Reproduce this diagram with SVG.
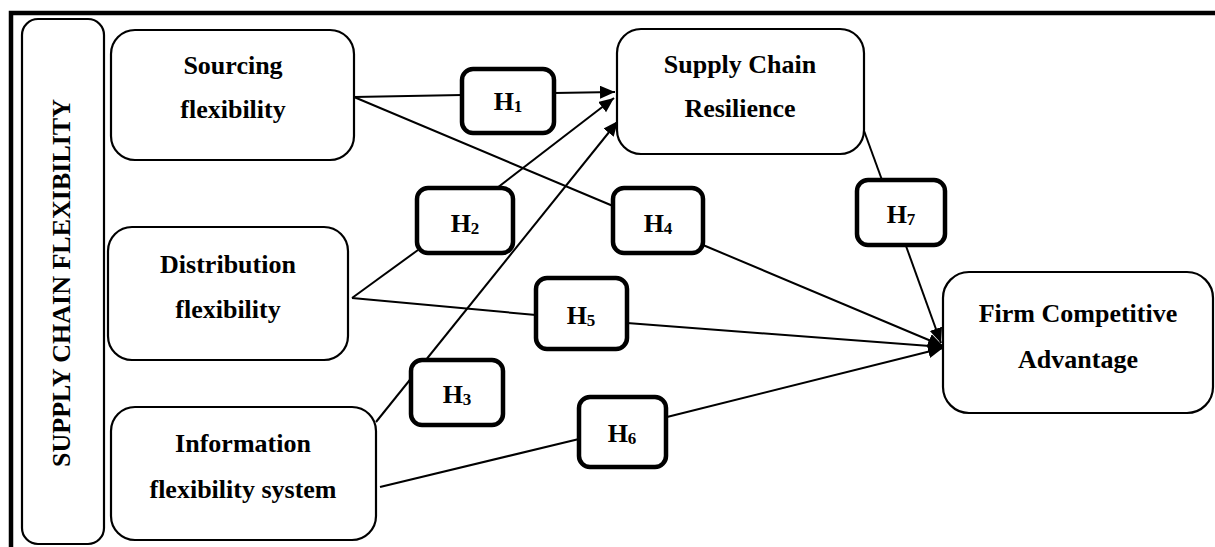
<svg xmlns="http://www.w3.org/2000/svg" width="1215" height="547" viewBox="0 0 1215 547">
  <style>
    .box { fill: #fff; stroke: #000; stroke-width: 2.2; }
    .hyp { fill: #fff; stroke: #000; stroke-width: 4.5; }
    .lbl { font-family: "Liberation Serif", "Times New Roman", serif; font-weight: bold; font-size: 26px; fill: #000; text-anchor: middle; }
    .sub { font-size: 17px; }
    .edge { fill: none; stroke: #000; stroke-width: 2; }
    .frame { fill: none; stroke: #000; stroke-width: 4.5; }
  </style>
  <defs>
    <marker id="arrow" markerUnits="userSpaceOnUse" markerWidth="16" markerHeight="14" refX="15" refY="6.5" orient="auto">
      <path d="M0,0 L15,6.5 L0,13 Z" fill="#000"/>
    </marker>
  </defs>

  <rect width="1215" height="547" fill="#fff"/>

  <!-- outer frame -->
  <path class="frame" d="M11,547 V13 H1215"/>

  <!-- connectors -->
  <g id="connectors">
    <line class="edge" x1="354" y1="97" x2="462" y2="95"/>
    <line class="edge" x1="554" y1="93" x2="615" y2="92" marker-end="url(#arrow)"/>
    <line class="edge" x1="354" y1="97" x2="613" y2="206"/>
    <line class="edge" x1="703" y1="245" x2="943" y2="346" marker-end="url(#arrow)"/>
    <line class="edge" x1="352" y1="298" x2="418" y2="250"/>
    <line class="edge" x1="497" y1="188" x2="614" y2="98" marker-end="url(#arrow)"/>
    <line class="edge" x1="376" y1="422" x2="618" y2="121" marker-end="url(#arrow)"/>
    <line class="edge" x1="352" y1="298" x2="536" y2="315"/>
    <line class="edge" x1="627" y1="323" x2="943" y2="347" marker-end="url(#arrow)"/>
    <line class="edge" x1="380" y1="487" x2="579" y2="439"/>
    <line class="edge" x1="667" y1="417" x2="943" y2="348" marker-end="url(#arrow)"/>
    <line class="edge" x1="863" y1="128" x2="882" y2="180"/>
    <line class="edge" x1="906" y1="246" x2="941" y2="343" marker-end="url(#arrow)"/>
  </g>

  <g id="supply-chain-flexibility">
    <rect class="box" x="22" y="19" width="82" height="525" rx="16"/>
    <text class="lbl" transform="translate(70,283) rotate(-90)">SUPPLY CHAIN FLEXIBILITY</text>
  </g>

  <g id="sourcing">
    <rect class="box" x="111" y="30" width="243" height="130" rx="24"/>
    <text class="lbl" x="233" y="74">Sourcing</text>
    <text class="lbl" x="233" y="118">flexibility</text>
  </g>

  <g id="distribution">
    <rect class="box" x="108" y="227" width="240" height="133" rx="24"/>
    <text class="lbl" x="228" y="273">Distribution</text>
    <text class="lbl" x="228" y="318">flexibility</text>
  </g>

  <g id="information">
    <rect class="box" x="111" y="407" width="265" height="133" rx="24"/>
    <text class="lbl" x="243" y="452">Information</text>
    <text class="lbl" x="243" y="498">flexibility system</text>
  </g>

  <g id="resilience">
    <rect class="box" x="617" y="29" width="247" height="125" rx="24"/>
    <text class="lbl" x="740" y="73">Supply Chain</text>
    <text class="lbl" x="740" y="117">Resilience</text>
  </g>

  <g id="advantage">
    <rect class="box" x="943" y="272" width="270" height="141" rx="26"/>
    <text class="lbl" x="1078" y="322">Firm Competitive</text>
    <text class="lbl" x="1078" y="368">Advantage</text>
  </g>

  <g id="h1">
    <rect class="hyp" x="462" y="69" width="92" height="64" rx="11"/>
    <text class="lbl" x="508" y="110">H<tspan class="sub" dy="2">1</tspan></text>
  </g>
  <g id="h2">
    <rect class="hyp" x="417" y="188" width="96" height="65" rx="11"/>
    <text class="lbl" x="465" y="232">H<tspan class="sub" dy="2">2</tspan></text>
  </g>
  <g id="h3">
    <rect class="hyp" x="411" y="360" width="92" height="65" rx="11"/>
    <text class="lbl" x="457" y="403">H<tspan class="sub" dy="2">3</tspan></text>
  </g>
  <g id="h4">
    <rect class="hyp" x="613" y="188" width="90" height="65" rx="11"/>
    <text class="lbl" x="658" y="232">H<tspan class="sub" dy="2">4</tspan></text>
  </g>
  <g id="h5">
    <rect class="hyp" x="536" y="278" width="91" height="71" rx="11"/>
    <text class="lbl" x="581" y="324">H<tspan class="sub" dy="2">5</tspan></text>
  </g>
  <g id="h6">
    <rect class="hyp" x="579" y="397" width="87" height="70" rx="11"/>
    <text class="lbl" x="622" y="442">H<tspan class="sub" dy="2">6</tspan></text>
  </g>
  <g id="h7">
    <rect class="hyp" x="857" y="180" width="88" height="65" rx="11"/>
    <text class="lbl" x="901" y="223">H<tspan class="sub" dy="2">7</tspan></text>
  </g>
</svg>
